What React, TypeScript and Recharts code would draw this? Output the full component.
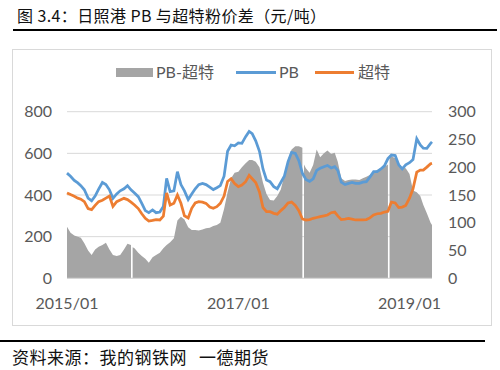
import React from "react";
import { ComposedChart, Area, Line, XAxis, YAxis, CartesianGrid } from "recharts";

// half-monthly readings, 2015-01-01 .. 2019-04-07
const pb = [
  505, 490, 470, 458, 445, 425, 385, 372, 395, 428, 460, 450,
  425, 384, 405, 420, 430, 445, 425, 410, 392, 360, 325, 315,
  328, 315, 318, 345, 480, 416, 420, 512, 450, 420, 378, 405,
  430, 450, 456, 450, 438, 426, 435, 445, 490, 610, 640, 636,
  650, 648, 680, 705, 695, 660, 610, 525, 472, 464, 440, 430,
  460, 490, 560, 605, 600, 565, 505, 475, 465, 478, 518, 528,
  536, 542, 530, 536, 518, 462, 450, 456, 460, 456, 456, 462,
  464, 486, 512, 512, 525, 540, 575, 592, 590, 545, 525, 545,
  555, 570, 670, 640, 625, 624, 648, 655,
];

const chaote = [
  410, 402, 394, 385, 380, 368, 335, 330, 350, 368, 375, 385,
  395, 345, 368, 376, 384, 378, 366, 352, 335, 310, 288, 275,
  278, 282, 280, 298, 410, 352, 360, 400, 360, 300, 290, 336,
  362, 368, 366, 360, 342, 336, 344, 360, 395, 465, 478, 455,
  440, 448, 464, 494, 478, 460, 415, 340, 320, 320, 312, 308,
  325, 340, 362, 366, 350, 325, 285, 280, 282, 288, 292, 296,
  300, 304, 315, 318, 300, 282, 284, 288, 284, 280, 280, 280,
  282, 290, 304, 310, 312, 318, 322, 366, 362, 340, 342, 350,
  385, 430, 510, 520, 520, 534, 550, 552,
];

const spread = [
  93, 82, 77, 75, 73, 63, 50, 42, 52, 57, 60, 64,
  52, 42, 40, 42, 52, 62, 60, 54, 46, 40, 35, 28,
  38, 42, 46, 54, 60, 65, 72, 104, 111, 106, 92, 87,
  87, 86, 88, 90, 91, 94, 96, 100, 125, 155, 180, 190,
  192, 200, 207, 213, 213, 210, 200, 172, 152, 141, 140, 148,
  160, 185, 215, 232, 238, 238, 235, 198, 190, 204, 232, 218,
  225, 230, 224, 226, 210, 180, 175, 177, 178, 178, 177, 180,
  183, 186, 192, 195, 198, 201, 205, 220, 216, 208, 199, 198,
  188, 158, 155, 148, 132, 117, 100, 96,
];

// National Day holidays: no spread data
const holidayStart = ["2015-10-04", "2017-10-04", "2018-10-04"];
const holidayEnd = ["2015-10-08", "2017-10-08", "2018-10-08"];
const spreadAfterHoliday = [56, 205, 222];

const xTickDates = ["2015-01-01", "2017-01-01", "2019-01-01"];
const xTickLabels = ["2015/01", "2017/01", "2019/01"];
const leftTicks = [0, 200, 400, 600, 800];
const rightTicks = [0, 50, 100, 150, 200, 250, 300];

const dayOf = (d: string) => Math.round((Date.parse(d) - Date.parse("2015-01-01")) / 86400000);

const dates: string[] = [];
for (let i = 0; i < 102; i++) {
  const y = 2015 + Math.floor(i / 24);
  const m = Math.floor((i % 24) / 2) + 1;
  dates.push(`${y}-${String(m).padStart(2, "0")}-${i % 2 ? "16" : "01"}`);
}
dates.push("2019-04-01", "2019-04-07");

const rows: any[] = dates.map((d, i) => ({ day: dayOf(d), pb: pb[i], chaote: chaote[i], spread: spread[i] }));
holidayStart.forEach((d, i) => {
  rows.push({ day: dayOf(d), pb: null, chaote: null, spread: null });
  rows.push({ day: dayOf(holidayEnd[i]), pb: null, chaote: null, spread: spreadAfterHoliday[i] });
});
rows.sort((a, b) => a.day - b.day);

const tickDays = xTickDates.map(dayOf);
const axisFont = { fontFamily: "Lato, 'Noto Sans CJK SC'", fontSize: 16, fill: "#595959" };
const cjk = "'Noto Sans CJK SC', sans-serif";

const legendText: React.CSSProperties = {
  fontFamily: "Lato, 'Noto Sans CJK SC'",
  fontSize: 16,
  lineHeight: "22px",
  color: "#595959",
  whiteSpace: "nowrap",
};

export default function App() {
  return (
    <div style={{ position: "absolute", left: 0, top: 0, width: 500, height: 370, background: "#fff" }}>
      <div style={{ position: "absolute", left: 17, top: 4, fontFamily: cjk, fontSize: 16, lineHeight: "22px", color: "#111", whiteSpace: "nowrap", letterSpacing: 0.4 }}>
        图 3.4：日照港 PB 与超特粉价差（元/吨）
      </div>
      <div style={{ position: "absolute", left: 13, top: 29, width: 484, height: 2, background: "#000" }} />

      <div style={{ position: "absolute", left: 12, top: 49, width: 478, height: 275, border: "1px solid #D9D9D9" }} />

      {/* legend */}
      <div style={{ position: "absolute", left: 116, top: 68, width: 37, height: 9, background: "#A5A5A5" }} />
      <div style={{ position: "absolute", left: 156, top: 61, ...legendText }}>PB-超特</div>
      <div style={{ position: "absolute", left: 236, top: 71, width: 40, height: 2.5, background: "#5B9BD5" }} />
      <div style={{ position: "absolute", left: 279, top: 61, ...legendText }}>PB</div>
      <div style={{ position: "absolute", left: 315, top: 71, width: 39, height: 2.5, background: "#ED7D31" }} />
      <div style={{ position: "absolute", left: 358, top: 61, ...legendText }}>超特</div>

      <div style={{ position: "absolute", left: 12, top: 49 }}>
        <ComposedChart width={480} height={277} data={rows} margin={{ top: 62.7, right: 10, bottom: 17.7, left: 10 }}>
          <CartesianGrid yAxisId="left" vertical={false} stroke="#D9D9D9" />
          <XAxis
            type="number"
            dataKey="day"
            domain={[0, dayOf("2019-04-07")]}
            ticks={tickDays}
            tickFormatter={(v: number) => xTickLabels[tickDays.indexOf(v)]}
            tickLine={false}
            axisLine={{ stroke: "#D9D9D9" }}
            tick={axisFont}
            tickMargin={13}
            height={30}
            interval={0}
          />
          <YAxis yAxisId="left" domain={[0, 800]} ticks={leftTicks} tickLine={false} axisLine={false} tick={axisFont} tickMargin={9} width={45} />
          <YAxis yAxisId="right" orientation="right" domain={[0, 300]} ticks={rightTicks} tickLine={false} axisLine={false} tick={{ ...axisFont, textAnchor: "start" }} tickMargin={10} width={50} />
          <Area yAxisId="right" type="linear" dataKey="spread" fill="#A5A5A5" fillOpacity={1} stroke="none" isAnimationActive={false} />
          <Line yAxisId="left" type="linear" dataKey="pb" stroke="#5B9BD5" strokeWidth={2.75} dot={false} connectNulls isAnimationActive={false} />
          <Line yAxisId="left" type="linear" dataKey="chaote" stroke="#ED7D31" strokeWidth={2.75} dot={false} connectNulls isAnimationActive={false} />
        </ComposedChart>
      </div>

      <div style={{ position: "absolute", left: 0, top: 340, width: 485, height: 2, background: "#000" }} />
      <div style={{ position: "absolute", left: 12, top: 347, fontFamily: cjk, fontSize: 17, lineHeight: "20px", color: "#111", whiteSpace: "nowrap", letterSpacing: 0.5 }}>
        资料来源：我的钢铁网<span style={{ marginLeft: 12 }}>一德期货</span>
      </div>
    </div>
  );
}
